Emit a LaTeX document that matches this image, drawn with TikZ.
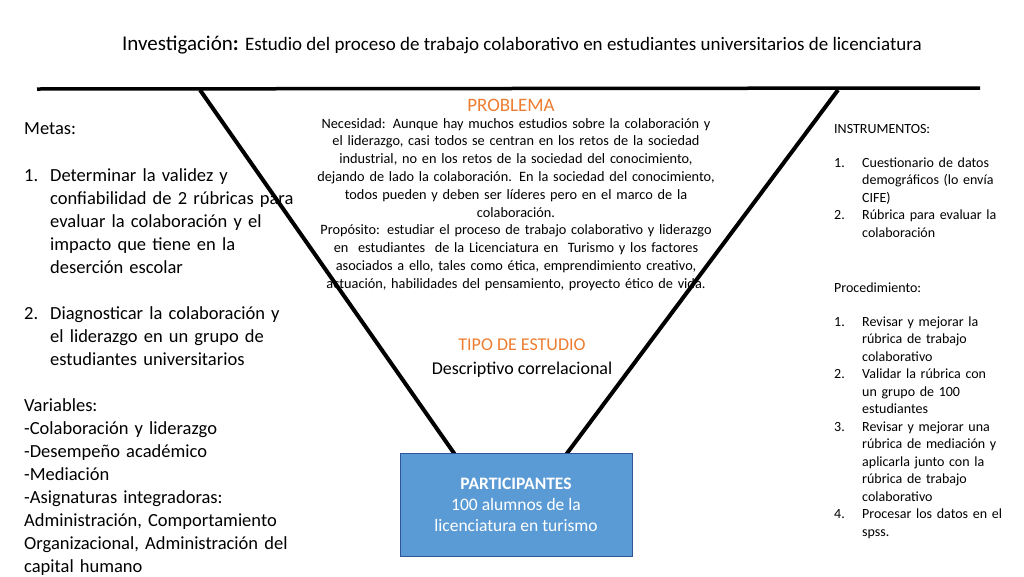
\documentclass[tikz,border=0pt]{standalone}
\usepackage{fontspec}
\setmainfont{Carlito}
\usetikzlibrary{positioning}
\definecolor{probcol}{RGB}{237,125,49}
\definecolor{boxfill}{RGB}{91,155,213}
\definecolor{boxline}{RGB}{47,85,151}
\tikzset{
  vline/.style={line width=4pt, black},
  midtext/.style={align=center, font=\fontsize{14.3}{17.8}\selectfont},
  sidetext/.style={align=left, anchor=north west, inner sep=0pt},
}
\begin{document}
\begin{tikzpicture}[x=1pt, y=-1pt]
    \useasboundingbox (0,0) rectangle (1024,576);
    \node[font=\fontsize{21}{24}\selectfont] (title) at (522,45) {Investigación\textbf{:} {\fontsize{19}{22}\selectfont Estudio del proceso de trabajo colaborativo en estudiantes universitarios de licenciatura}};
    \coordinate (tl) at (37,89);
    \coordinate (tr) at (980,88);
    \draw[line width=3.5pt] (tl) -- (tr);
    \coordinate (vl) at (200,90);
    \coordinate (vr) at (838,90);
    \coordinate (bl) at (456,456);
    \coordinate (br) at (565,456);
    \draw[vline] (vl) -- (bl);
    \draw[vline] (vr) -- (br);
    \node[midtext, text=probcol, font=\fontsize{19}{22}\selectfont] (prob) at (511,105) {PROBLEMA};
    \node[midtext, anchor=north, text width=440pt, inner sep=0pt] (need) at (516,118) {Necesidad: Aunque hay muchos estudios sobre la colaboración y\\ el liderazgo, casi todos se centran en los retos de la sociedad\\ industrial, no en los retos de la sociedad del conocimiento,\\ dejando de lado la colaboración. En la sociedad del conocimiento,\\ todos pueden y deben ser líderes pero en el marco de la\\ colaboración.\\ Propósito: estudiar el proceso de trabajo colaborativo y liderazgo\\ en\ \ estudiantes\ \ de la Licenciatura en\ \ Turismo y los factores\\ asociados a ello, tales como ética, emprendimiento creativo,\\ actuación, habilidades del pensamiento, proyecto ético de vida.};
    \node[midtext, font=\fontsize{18}{24}\selectfont] (tipo) at (522,358) {\textcolor{probcol}{TIPO DE ESTUDIO}\\ Descriptivo correlacional};
    \node[draw=boxline, line width=1pt, fill=boxfill, minimum width=232pt, minimum height=103pt, text=white, align=center, font=\fontsize{17.5}{21}\selectfont] (part) at (516,505) {\textbf{PARTICIPANTES}\\ 100 alumnos de la\\ licenciatura en turismo};
    \node[sidetext, font=\fontsize{18.5}{23}\selectfont, text width=290pt] (metas) at (24,122) {Metas:\\[24pt]
      \makebox[26pt][l]{1.}Determinar la validez y\\
      \hspace*{26pt}confiabilidad de 2 rúbricas para\\
      \hspace*{26pt}evaluar la colaboración y el\\
      \hspace*{26pt}impacto que tiene en la\\
      \hspace*{26pt}deserción escolar\\[23pt]
      \makebox[26pt][l]{2.}Diagnosticar la colaboración y\\
      \hspace*{26pt}el liderazgo en un grupo de\\
      \hspace*{26pt}estudiantes universitarios\\[23pt]
      Variables:\\
      -Colaboración y liderazgo\\
      -Desempeño académico\\
      -Mediación\\
      -Asignaturas integradoras:\\
      Administración, Comportamiento\\
      Organizacional, Administración del\\
      capital humano};
    \node[sidetext, font=\fontsize{14}{17.5}\selectfont, text width=190pt] (instr) at (834,124) {INSTRUMENTOS:\\[16.5pt]
      \makebox[28pt][l]{1.}Cuestionario de datos\\
      \hspace*{28pt}demográficos (lo envía\\
      \hspace*{28pt}CIFE)\\
      \makebox[28pt][l]{2.}Rúbrica para evaluar la\\
      \hspace*{28pt}colaboración\\[37.5pt]
      Procedimiento:\\[16.5pt]
      \makebox[28pt][l]{1.}Revisar y mejorar la\\
      \hspace*{28pt}rúbrica de trabajo\\
      \hspace*{28pt}colaborativo\\
      \makebox[28pt][l]{2.}Validar la rúbrica con\\
      \hspace*{28pt}un grupo de 100\\
      \hspace*{28pt}estudiantes\\
      \makebox[28pt][l]{3.}Revisar y mejorar una\\
      \hspace*{28pt}rúbrica de mediación y\\
      \hspace*{28pt}aplicarla junto con la\\
      \hspace*{28pt}rúbrica de trabajo\\
      \hspace*{28pt}colaborativo\\
      \makebox[28pt][l]{4.}Procesar los datos en el\\
      \hspace*{28pt}spss.};
\end{tikzpicture}
\end{document}
